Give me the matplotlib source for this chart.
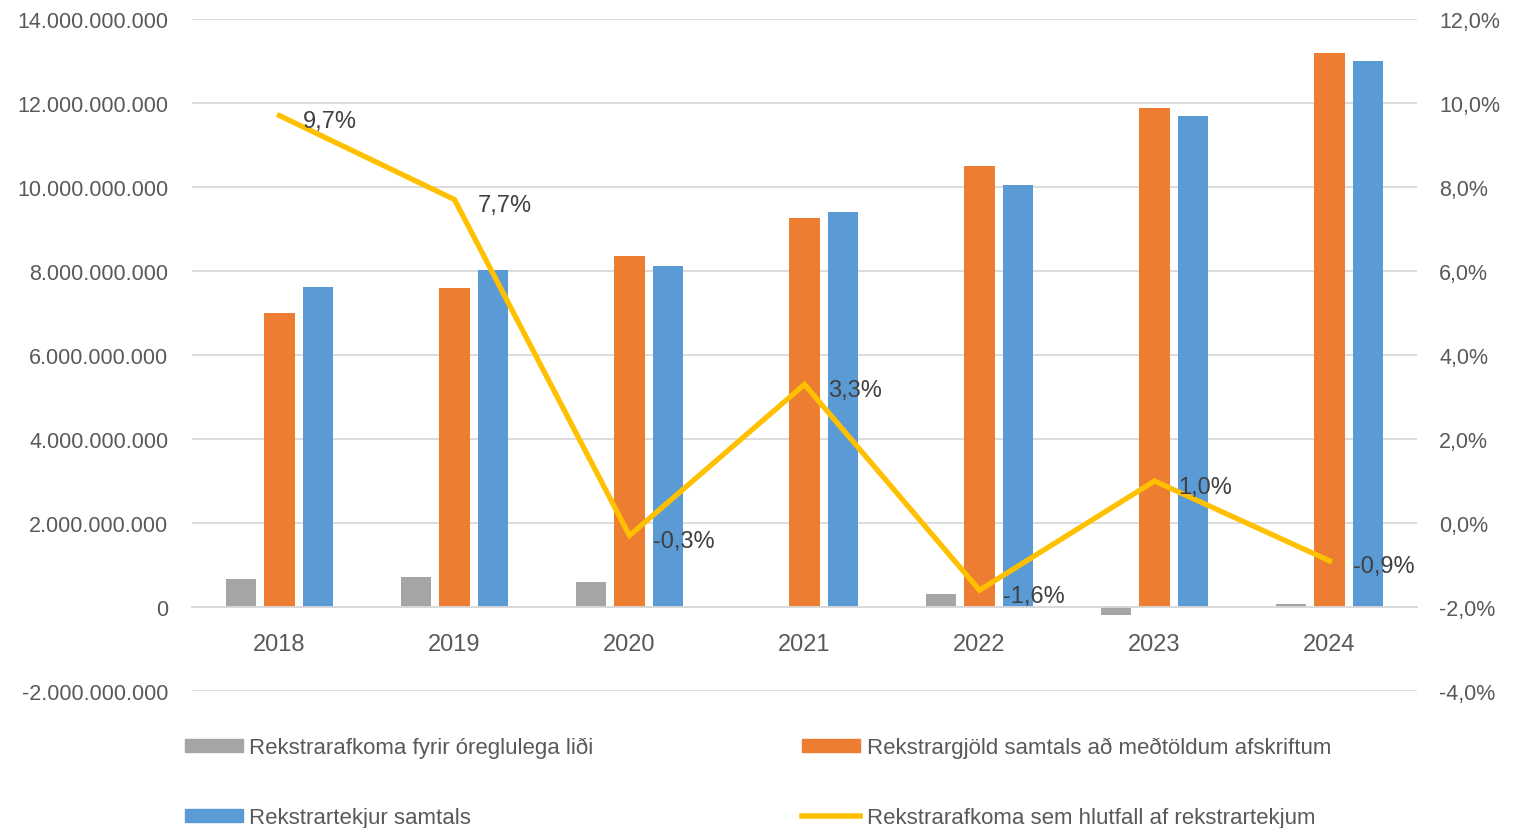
import numpy as np
import matplotlib
matplotlib.use("Agg")
import matplotlib.pyplot as plt
from matplotlib.ticker import FuncFormatter, MultipleLocator
from matplotlib.lines import Line2D
from matplotlib.patches import Patch

plt.rcParams["font.family"] = ["Liberation Sans", "DejaVu Sans"]

years = ["2018", "2019", "2020", "2021", "2022", "2023", "2024"]
afkoma = [0.67e9, 0.71e9, 0.60e9, 0.0, 0.30e9, -0.19e9, 0.08e9]
gjold = [7.00e9, 7.60e9, 8.36e9, 9.26e9, 10.51e9, 11.88e9, 13.19e9]
tekjur = [7.63e9, 8.02e9, 8.12e9, 9.40e9, 10.05e9, 11.70e9, 13.01e9]
hlutfall = [9.7, 7.7, -0.3, 3.3, -1.6, 1.0, -0.9]

lbl_afkoma = "Rekstrarafkoma fyrir óreglulega liði"
lbl_gjold = "Rekstrargjöld samtals að meðtöldum afskriftum"
lbl_tekjur = "Rekstrartekjur samtals"
lbl_hlutfall = "Rekstrarafkoma sem hlutfall af rekstrartekjum"

c_gray = "#A5A5A5"
c_orange = "#ED7D31"
c_blue = "#5B9BD5"
c_yellow = "#FFC000"
txt = "#595959"

fig = plt.figure(figsize=(15.24, 8.29), dpi=100)
ax = fig.add_axes([192 / 1524, 1 - 692 / 829, (1417 - 192) / 1524, (692 - 20) / 829])

x = np.arange(len(years))
w = 0.177
step = 0.22
ax.bar(x - step, afkoma, w, color=c_gray, zorder=2)
ax.bar(x, gjold, w, color=c_orange, zorder=2)
ax.bar(x + step, tekjur, w, color=c_blue, zorder=2)

ax.set_xlim(-0.5, len(years) - 0.5)
ax.set_ylim(-2e9, 14e9)
ax.yaxis.set_major_locator(MultipleLocator(2e9))
ax.yaxis.set_major_formatter(FuncFormatter(lambda v, p: f"{v:,.0f}".replace(",", ".")))
ax.grid(axis="y", color="#D9D9D9", linewidth=1.3, zorder=0)
ax.set_axisbelow(True)

for s in ["top", "right", "left"]:
    ax.spines[s].set_visible(False)
ax.spines["bottom"].set_position(("data", 0))
ax.spines["bottom"].set_color("#D9D9D9")
ax.spines["bottom"].set_linewidth(1.3)
ax.set_xticks(x)
ax.set_xticklabels(years)
ax.tick_params(axis="x", length=0, pad=19, labelsize=17, labelcolor=txt)
ax.tick_params(axis="y", length=0, pad=17, labelsize=15.5, labelcolor=txt)

ax2 = ax.twinx()
ax2.set_ylim(-4, 12)
ax2.yaxis.set_major_locator(MultipleLocator(2))
ax2.yaxis.set_major_formatter(FuncFormatter(lambda v, p: f"{v:.1f}%".replace(".", ",")))
ax2.tick_params(axis="y", length=0, pad=16, labelsize=15.5, labelcolor=txt)
for s in ax2.spines.values():
    s.set_visible(False)

ax2.plot(x, hlutfall, color=c_yellow, linewidth=3.8, solid_joinstyle="miter", zorder=3)
for xi, v in zip(x, hlutfall):
    ax2.annotate(f"{v:.1f}%".replace(".", ","), (xi, v), xytext=(17, -4),
                 textcoords="offset points", ha="left", va="center",
                 fontsize=17, color="#404040", zorder=4)

handles = [
    Patch(color=c_gray, label=lbl_afkoma),
    Patch(color=c_blue, label=lbl_tekjur),
    Patch(color=c_orange, label=lbl_gjold),
    Line2D([0], [0], color=c_yellow, linewidth=4, label=lbl_hlutfall),
]
fig.legend(handles=handles, ncol=2, loc="upper left", bbox_to_anchor=(176 / 1524, 1 - 729 / 829),
           frameon=False, fontsize=16, labelcolor=txt, handlelength=2.6, handleheight=0.55,
           handletextpad=0.3, columnspacing=9.4, labelspacing=2.2, borderaxespad=0)

fig.savefig("out.png", dpi=100)
